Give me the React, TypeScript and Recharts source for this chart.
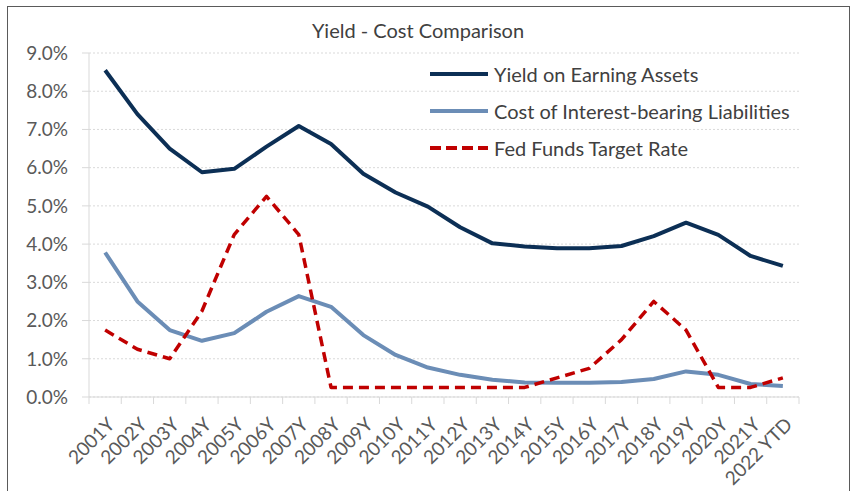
import { CartesianGrid, Legend, Line, LineChart, XAxis, YAxis } from "recharts";

const categories = [
  "2001Y", "2002Y", "2003Y", "2004Y", "2005Y", "2006Y", "2007Y", "2008Y", "2009Y", "2010Y", "2011Y",
  "2012Y", "2013Y", "2014Y", "2015Y", "2016Y", "2017Y", "2018Y", "2019Y", "2020Y", "2021Y", "2022 YTD",
];
const yieldOnAssets = [
  8.55, 7.4, 6.5, 5.88, 5.97, 6.55, 7.09, 6.62, 5.84, 5.35, 4.98,
  4.44, 4.02, 3.94, 3.89, 3.89, 3.95, 4.21, 4.56, 4.24, 3.69, 3.43,
];
const costOfLiabilities = [
  3.78, 2.5, 1.75, 1.47, 1.67, 2.23, 2.64, 2.36, 1.62, 1.1, 0.77,
  0.58, 0.45, 0.38, 0.37, 0.37, 0.39, 0.47, 0.67, 0.58, 0.34, 0.29,
];
const fedFundsTarget = [
  1.75, 1.25, 1.0, 2.25, 4.25, 5.25, 4.25, 0.25, 0.25, 0.25, 0.25,
  0.25, 0.25, 0.25, 0.5, 0.75, 1.5, 2.5, 1.75, 0.25, 0.25, 0.5,
];
const yTicks = [0, 1, 2, 3, 4, 5, 6, 7, 8, 9];

const series = [
  { key: "yield", name: "Yield on Earning Assets", color: "#0c2f55", dash: undefined, width: 4 },
  { key: "cost", name: "Cost of Interest-bearing Liabilities", color: "#6b8db6", dash: undefined, width: 4 },
  { key: "fed", name: "Fed Funds Target Rate", color: "#c00000", dash: "10 6", width: 3.5 },
];

const W = 854;
const H = 491;
const M = { top: 53, right: 55, left: 0, bottom: 0 };
const Y_AXIS_W = 89;
const X_AXIS_H = 94;
const STEP = (W - M.left - M.right - Y_AXIS_W) / categories.length;
const FONT = "Lato, 'Open Sans', sans-serif";
const TEXT = "#595959";
const AXIS = "#d9d9d9";

// 各年を区間の中央に置き、目盛り線は区間の境目に引く（Excel 風）
const data = categories.map((label, i) => ({
  pos: i + 0.5,
  label,
  yield: yieldOnAssets[i],
  cost: costOfLiabilities[i],
  fed: fedFundsTarget[i],
}));

function CategoryTick(props: any) {
  const { x, y, payload } = props;
  const label = categories[payload.value];
  if (!label) return <g />;
  const ax = x + STEP / 2 + 6;
  const ay = y + 15;
  return (
    <text
      x={ax}
      y={ay}
      dy="0.35em"
      textAnchor="end"
      fill={TEXT}
      fontSize={19}
      transform={`rotate(-45, ${ax}, ${ay})`}
    >
      {label}
    </text>
  );
}

function LegendBox() {
  return (
    <div style={{ fontFamily: FONT }}>
      {series.map((s) => (
        <div key={s.key} style={{ display: "flex", alignItems: "center", height: 36.7 }}>
          <svg width={58} height={8} style={{ marginRight: 6 }}>
            <line
              x1={0}
              y1={4}
              x2={58}
              y2={4}
              stroke={s.color}
              strokeWidth={4}
              strokeDasharray={s.dash ? "11 5" : undefined}
            />
          </svg>
          <span style={{ fontSize: 20, color: "#404040", whiteSpace: "nowrap" }}>{s.name}</span>
        </div>
      ))}
    </div>
  );
}

export default function App() {
  return (
    <div
      style={{
        position: "absolute",
        left: 0,
        top: 0,
        width: W,
        height: H,
        background: "#fff",
        overflow: "hidden",
        fontFamily: FONT,
      }}
    >
      <div
        style={{
          position: "absolute",
          left: 7,
          top: 6,
          width: 841,
          height: 500,
          border: "1px solid #5a5a5a",
        }}
      />
      <div
        style={{
          position: "absolute",
          top: 18,
          left: 0,
          width: 836,
          textAlign: "center",
          fontSize: 20,
          color: "#404040",
        }}
      >
        Yield - Cost Comparison
      </div>
      <div style={{ position: "absolute", left: 0, top: 0 }}>
        <LineChart width={W} height={H} data={data} margin={M}>
          <CartesianGrid vertical={false} stroke={AXIS} strokeDasharray="2 2" />
          <XAxis
            dataKey="pos"
            type="number"
            domain={[0, categories.length]}
            ticks={categories.map((_, i) => i).concat(categories.length)}
            interval={0}
            height={X_AXIS_H}
            axisLine={{ stroke: AXIS }}
            tickLine={{ stroke: AXIS }}
            tickSize={7}
            tick={<CategoryTick />}
          />
          <YAxis
            domain={[0, 9]}
            ticks={yTicks}
            width={Y_AXIS_W}
            axisLine={{ stroke: AXIS }}
            tickLine={{ stroke: AXIS }}
            tickSize={7}
            tickMargin={14}
            tick={{ fill: TEXT, fontSize: 19 }}
            tickFormatter={(v: number) => `${v.toFixed(1)}%`}
          />
          <Legend
            layout="vertical"
            align="center"
            verticalAlign="middle"
            content={() => <LegendBox />}
            wrapperStyle={{ left: 430, top: 56, width: "auto", height: "auto" }}
          />
          {series.map((s) => (
            <Line
              key={s.key}
              type="linear"
              dataKey={s.key}
              name={s.name}
              stroke={s.color}
              strokeWidth={s.width}
              strokeDasharray={s.dash}
              strokeLinejoin="round"
              dot={false}
              activeDot={false}
              isAnimationActive={false}
            />
          ))}
        </LineChart>
      </div>
    </div>
  );
}
